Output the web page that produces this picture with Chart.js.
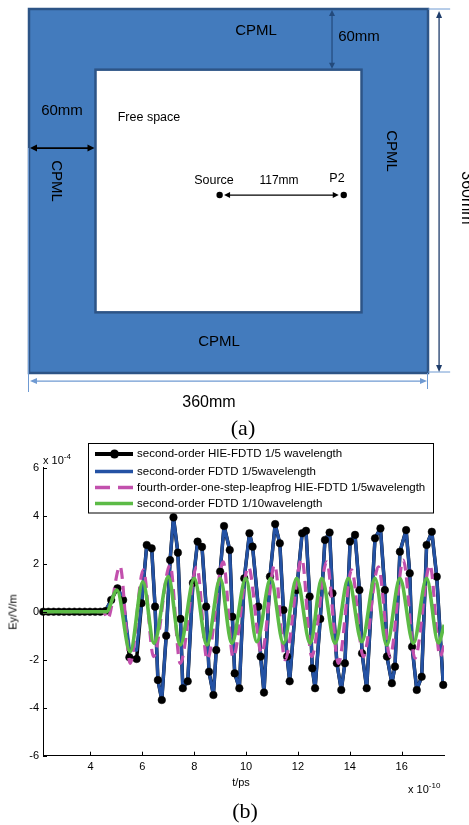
<!DOCTYPE html>
<html><head><meta charset="utf-8">
<script src="https://cdn.jsdelivr.net/npm/chart.js@4.4.1/dist/chart.umd.min.js"></script>
<style>
html,body{margin:0;padding:0;background:#fff;}
#wrap{position:relative;width:469px;height:825px;overflow:hidden;}
canvas{position:absolute;left:0;}
.t{position:absolute;white-space:nowrap;line-height:1;transform:translate(-50%,-50%);font-family:"Liberation Sans",Arial,sans-serif;color:#000;}
.r90{transform:translate(-50%,-50%) rotate(90deg);}
.rm90{transform:translate(-50%,-50%) rotate(-90deg);}
.serif{font-family:"Liberation Serif","Times New Roman",serif;}
.l{transform:translate(0,-50%);}
sup{font-size:8px;vertical-align:0;position:relative;top:-5px;}
</style></head>
<body>
<div id="wrap">
<canvas id="ca" width="469" height="420" style="top:0"></canvas>
<canvas id="cb" width="469" height="395" style="top:430px"></canvas>

<div class="t" style="left:256px;top:29px;font-size:15px">CPML</div>
<div class="t" style="left:359px;top:35px;font-size:15px">60mm</div>
<div class="t" style="left:62px;top:109px;font-size:15px">60mm</div>
<div class="t" style="left:149px;top:117px;font-size:12.5px">Free space</div>
<div class="t r90" style="left:392px;top:151px;font-size:15px">CPML</div>
<div class="t r90" style="left:57px;top:181px;font-size:15px">CPML</div>
<div class="t" style="left:214px;top:180px;font-size:12.5px">Source</div>
<div class="t" style="left:279px;top:180px;font-size:12px">117mm</div>
<div class="t" style="left:337px;top:178px;font-size:12.5px">P2</div>
<div class="t" style="left:219px;top:340px;font-size:15px">CPML</div>
<div class="t" style="left:209px;top:402px;font-size:16px">360mm</div>
<div class="t r90" style="left:467px;top:198px;font-size:16px">360mm</div>
<div class="t serif" style="left:243px;top:428px;font-size:22px">(a)</div>

<div class="t l" style="left:43px;top:460px;font-size:11px">x 10<sup>-4</sup></div>
<div class="t rm90" style="left:13px;top:612px;font-size:11px">Ey/V/m</div>
<div class="t" style="left:241px;top:782px;font-size:11px">t/ps</div>
<div class="t l" style="left:408px;top:789px;font-size:11px">x 10<sup>-10</sup></div>
<div class="t serif" style="left:245px;top:811px;font-size:22px">(b)</div>

<div id="legtext"></div>
</div>
<script>
// ---------- panel (a) data ----------
const domainMM = [0, 360];
const cpmlMM = 60;
const probeNames = ['Source', 'P2'];
const probeXmm = [172, 284];
const probeYmm = [184, 184];

// ---------- panel (b) data ----------
const seriesNames = [
  'second-order HIE-FDTD 1/5 wavelength',
  'second-order FDTD 1/5wavelength',
  'fourth-order-one-step-leapfrog HIE-FDTD 1/5wavelength',
  'second-order FDTD 1/10wavelength'
];
const xTickVals = [4, 6, 8, 10, 12, 14, 16];
const yTickVals = [-6, -4, -2, 0, 2, 4, 6];

const tHie = [
  2.18,2.38,2.58,2.78,2.98,3.18,3.38,3.58,3.78,3.98,4.18,4.38,4.58,
  4.80,5.04,5.26,5.50,5.78,5.97,
  6.17,6.36,6.49,6.60,6.75,
  6.92,7.07,7.20,7.37,7.47,7.56,7.75,
  7.95,8.13,8.30,8.46,8.57,8.74,
  8.85,9.00,9.15,9.37,9.47,9.56,9.74,
  9.93,10.13,10.25,10.47,10.56,10.69,
  10.92,11.12,11.30,11.44,11.58,11.68,
  11.95,12.16,12.31,12.45,12.55,12.66,
  12.86,13.04,13.22,13.33,13.50,13.67,13.81,
  14.01,14.20,14.37,14.47,14.65,
  14.97,15.18,15.35,15.43,15.62,15.74,
  15.93,16.17,16.31,16.40,16.58,16.77,
  16.96,17.16,17.35,17.60
];
const yHie = [
  0,0,0,0,0,0,0,0,0,0,0,0,0.03,
  0.49,0.97,0.49,-1.90,-1.97,0.35,
  2.78,2.64,0.21,-2.85,-3.68,
  -1.00,2.15,3.93,2.46,-0.30,-3.19,-2.90,
  1.20,2.92,2.70,0.21,-2.50,-3.47,
  -1.60,1.67,3.57,2.57,-0.21,-2.57,-3.19,
  1.39,3.27,2.71,0.21,-1.87,-3.37,
  1.46,3.65,2.85,0.07,-1.87,-2.90,
  0.90,3.27,3.37,0.63,-2.36,-3.19,
  -0.30,2.99,3.30,0.77,-2.15,-3.26,-2.15,
  2.92,3.20,0.90,-1.73,-3.19,
  3.06,3.47,0.90,-1.87,-2.98,-2.29,
  2.50,3.40,1.60,-1.46,-3.26,-2.71,
  2.78,3.33,1.46,-3.05
];
const yFdtd5 = [
  0,0,0,0,0,0,0,0,0,0,0,0,0.03,
  0.49,1.05,0.49,-1.55,-1.60,0.35,
  2.78,2.64,0.21,-2.85,-3.68,
  -1.00,2.15,3.93,2.46,-0.30,-3.19,-2.90,
  1.20,2.92,2.70,0.21,-2.50,-3.47,
  -1.60,1.67,3.57,2.57,-0.21,-2.57,-3.19,
  1.39,3.27,2.71,0.21,-1.87,-3.37,
  1.46,3.65,2.85,0.07,-1.87,-2.90,
  0.90,3.27,3.37,0.63,-2.36,-3.19,
  -0.30,2.99,3.30,0.77,-2.15,-3.26,-2.15,
  2.92,3.20,0.90,-1.73,-3.19,
  3.06,3.47,0.90,-1.87,-2.98,-2.29,
  2.50,3.40,1.60,-1.46,-3.26,-2.71,
  2.78,3.33,1.46,-3.05
];
const tLeap = [2.17,4.50,4.66,5.14,5.53,6.04,6.43,7.07,7.46,8.10,8.50,9.12,9.50,10.09,10.60,11.10,11.50,12.15,12.53,13.11,13.56,14.07,14.52,15.10,15.55,16.06,16.51,17.09,17.48,17.63];
const yLeap = [0,0,-0.30,1.90,-2.15,1.74,-1.87,1.94,-2.15,1.87,-2.00,2.08,-1.90,1.87,-1.73,1.95,-2.00,2.20,-1.87,2.08,-2.15,1.74,-1.87,1.87,-1.87,2.15,-1.94,1.95,-1.87,-1.40];
const tFdtd10 = [2.17,4.62,5.02,5.53,6.02,6.45,7.00,7.46,8.00,8.49,9.00,9.45,9.99,10.41,10.95,11.44,11.95,12.47,12.92,13.43,13.94,14.46,14.97,15.42,15.93,16.45,16.96,17.41,17.64];
const yFdtd10 = [0,0,0.90,-1.67,1.25,-1.32,1.46,-1.39,1.39,-1.39,1.39,-1.32,1.39,-1.25,1.39,-1.32,1.39,-1.32,1.39,-1.32,1.39,-1.25,1.39,-1.39,1.39,-1.32,1.39,-1.30,-0.55];

// ---------- styles ----------
const C_BLACK = '#000000', C_BLUE = '#2452a4', C_MAG = '#c250ad', C_GREEN = '#5cbb46';

function pts(t, y) { return t.map((v, i) => ({ x: v, y: y[i] })); }

function head(ctx, x, y, ang, hl, hw) {
  ctx.beginPath();
  ctx.moveTo(x, y);
  ctx.lineTo(x - hl * Math.cos(ang) + hw * Math.sin(ang), y - hl * Math.sin(ang) - hw * Math.cos(ang));
  ctx.lineTo(x - hl * Math.cos(ang) - hw * Math.sin(ang), y - hl * Math.sin(ang) + hw * Math.cos(ang));
  ctx.closePath();
  ctx.fill();
}
function arrow(ctx, x1, y1, x2, y2, color, w, hl, hw) {
  ctx.strokeStyle = color; ctx.fillStyle = color; ctx.lineWidth = w;
  const a = Math.atan2(y2 - y1, x2 - x1);
  ctx.beginPath();
  ctx.moveTo(x1 + Math.cos(a) * hl * 0.7, y1 + Math.sin(a) * hl * 0.7);
  ctx.lineTo(x2 - Math.cos(a) * hl * 0.7, y2 - Math.sin(a) * hl * 0.7);
  ctx.stroke();
  head(ctx, x2, y2, a, hl, hw);
  head(ctx, x1, y1, a + Math.PI, hl, hw);
}
function seg(ctx, x1, y1, x2, y2, color, w) {
  ctx.strokeStyle = color; ctx.lineWidth = w;
  ctx.beginPath(); ctx.moveTo(x1, y1); ctx.lineTo(x2, y2); ctx.stroke();
}

// ---------- panel (a) ----------
const diagramPlugin = {
  id: 'diagram',
  beforeDatasetsDraw(chart) {
    const ctx = chart.ctx, X = chart.scales.x, Y = chart.scales.y;
    const px = v => X.getPixelForValue(v), py = v => Y.getPixelForValue(v);
    const a = domainMM[0], b = domainMM[1];
    const i0 = a + cpmlMM, i1 = b - cpmlMM;
    ctx.save();
    ctx.fillStyle = '#437bbd';
    ctx.fillRect(px(a), py(a), px(b) - px(a), py(b) - py(a));
    ctx.strokeStyle = '#2d5486'; ctx.lineWidth = 2.5;
    ctx.strokeRect(px(a), py(a), px(b) - px(a), py(b) - py(a));
    ctx.fillStyle = '#ffffff';
    ctx.fillRect(px(i0), py(i0), px(i1) - px(i0), py(i1) - py(i0));
    ctx.strokeStyle = '#2d5486'; ctx.lineWidth = 2.5;
    ctx.strokeRect(px(i0), py(i0), px(i1) - px(i0), py(i1) - py(i0));

    arrow(ctx, px(273.4), py(a) + 1, px(273.4), py(i0) - 1, '#234a7c', 1.2, 6, 3);
    arrow(ctx, px(a) + 1, py(137.5), px(i0) - 1, py(137.5), '#000', 1.8, 7, 3.5);
    arrow(ctx, px(probeXmm[0] + 4), py(probeYmm[0]), px(probeXmm[1] - 4.5), py(probeYmm[1]), '#000', 1.3, 6, 3);

    const light = '#6f9ad2';
    seg(ctx, px(b), py(a), px(380), py(a), light, 1);
    seg(ctx, px(b), py(b) - 1, px(380), py(b) - 1, light, 1);
    arrow(ctx, px(370), py(a) + 2, px(370), py(b) - 1, '#1f3d6b', 1.3, 7, 3);
    seg(ctx, px(a) - 0.5, py(137.5), px(a) - 0.5, py(b) + 19, light, 1);
    seg(ctx, px(b) - 0.5, py(b), px(b) - 0.5, py(b) + 16, light, 1);
    arrow(ctx, px(a) + 1, py(368), px(b) - 1, py(368), light, 1.2, 7, 3);
    ctx.restore();
  }
};

new Chart(document.getElementById('ca'), {
  type: 'scatter',
  data: { datasets: [{
    label: probeNames.join(' / '),
    data: pts(probeXmm, probeYmm),
    pointRadius: 3.2, pointBackgroundColor: '#000', pointBorderColor: '#000', pointBorderWidth: 0
  }]},
  options: {
    responsive: false, animation: false, devicePixelRatio: 1, events: [],
    layout: { padding: { left: 29, right: 41, top: 9, bottom: 47 } },
    plugins: { legend: { display: false }, tooltip: { enabled: false } },
    scales: {
      x: { type: 'linear', min: domainMM[0], max: domainMM[1], display: false },
      y: { type: 'linear', min: domainMM[0], max: domainMM[1], reverse: true, display: false }
    }
  },
  plugins: [diagramPlugin]
});

// ---------- panel (b) ----------
const OFF = 430;
const legendRowsY = [454, 471.5, 487.5, 503.5];
const axisTicksPlugin = {
  id: 'inTicks',
  afterDraw(chart) {
    const ctx = chart.ctx, X = chart.scales.x, Y = chart.scales.y, ca = chart.chartArea;
    ctx.save();
    ctx.strokeStyle = '#000'; ctx.lineWidth = 1;
    xTickVals.forEach(v => { const p = Math.round(X.getPixelForValue(v)) + 0.5; ctx.beginPath(); ctx.moveTo(p, ca.bottom); ctx.lineTo(p, ca.bottom - 4); ctx.stroke(); });
    yTickVals.forEach(v => { const p = Math.round(Y.getPixelForValue(v)) + 0.5; ctx.beginPath(); ctx.moveTo(ca.left, p); ctx.lineTo(ca.left + 4, p); ctx.stroke(); });
    ctx.restore();
  }
};
const legendPlugin = {
  id: 'boxLegend',
  afterDraw(chart) {
    const ctx = chart.ctx;
    ctx.save();
    ctx.fillStyle = '#fff';
    ctx.fillRect(88.5, 443.5 - OFF, 345, 69.5);
    ctx.strokeStyle = '#000'; ctx.lineWidth = 1;
    ctx.strokeRect(88.5, 443.5 - OFF, 345, 69.5);
    const y = legendRowsY.map(v => v - OFF);
    seg(ctx, 95, y[0], 133, y[0], C_BLACK, 4);
    ctx.fillStyle = '#000'; ctx.beginPath(); ctx.arc(114.5, y[0], 4.5, 0, Math.PI * 2); ctx.fill();
    seg(ctx, 95, y[1], 133, y[1], C_BLUE, 3.5);
    seg(ctx, 95, y[2], 110, y[2], C_MAG, 3.5);
    seg(ctx, 118, y[2], 133, y[2], C_MAG, 3.5);
    seg(ctx, 95, y[3], 133, y[3], C_GREEN, 3.5);
    ctx.restore();
  }
};

document.getElementById('legtext').innerHTML = seriesNames.map((n, i) =>
  '<div class="t l" style="left:137px;top:' + legendRowsY[i] + 'px;font-size:11.5px">' + n + '</div>').join('');

const tickFont = { family: 'Liberation Sans', size: 11 };
new Chart(document.getElementById('cb'), {
  type: 'line',
  data: { datasets: [
    { label: seriesNames[3], data: pts(tFdtd10, yFdtd10), borderColor: C_GREEN, borderWidth: 3.6, pointRadius: 0, cubicInterpolationMode: 'monotone', fill: false },
    { label: seriesNames[2], data: pts(tLeap, yLeap), borderColor: C_MAG, borderWidth: 3.2, borderDash: [11, 7], pointRadius: 0, cubicInterpolationMode: 'monotone', fill: false },
    { label: seriesNames[0] + ' (markers)', data: pts(tHie, yHie), showLine: false, pointRadius: 3.8, pointBackgroundColor: C_BLACK, pointBorderColor: C_BLACK, pointBorderWidth: 0.5, clip: false },
    { label: seriesNames[1], data: pts(tHie, yFdtd5), borderColor: C_BLUE, borderWidth: 3.2, borderJoinStyle: 'round', pointRadius: 0, tension: 0, fill: false },
    { label: seriesNames[0], data: pts(tHie, yHie), borderColor: C_BLACK, borderWidth: 3.5, borderJoinStyle: 'round', pointRadius: 0, tension: 0, fill: false }
  ]},
  options: {
    responsive: false, animation: false, devicePixelRatio: 1, events: [],
    layout: { padding: { left: 13, right: 25, top: 37.7, bottom: 49.3 } },
    plugins: { legend: { display: false }, tooltip: { enabled: false } },
    scales: {
      x: {
        type: 'linear', min: 2.17, max: 17.63,
        afterBuildTicks: s => { s.ticks = xTickVals.map(v => ({ value: v })); },
        afterFit: s => { s.height = 20; },
        grid: { drawOnChartArea: false, drawTicks: false },
        border: { display: true, color: '#000', width: 1 },
        ticks: { color: '#000', font: tickFont, padding: 5, maxRotation: 0, autoSkip: false }
      },
      y: {
        type: 'linear', min: -6, max: 6,
        afterBuildTicks: s => { s.ticks = yTickVals.map(v => ({ value: v })); },
        afterFit: s => { s.width = 30; },
        grid: { drawOnChartArea: false, drawTicks: false },
        border: { display: true, color: '#000', width: 1 },
        ticks: { color: '#000', font: tickFont, padding: 4, autoSkip: false }
      }
    }
  },
  plugins: [axisTicksPlugin, legendPlugin]
});
</script>
</body></html>
